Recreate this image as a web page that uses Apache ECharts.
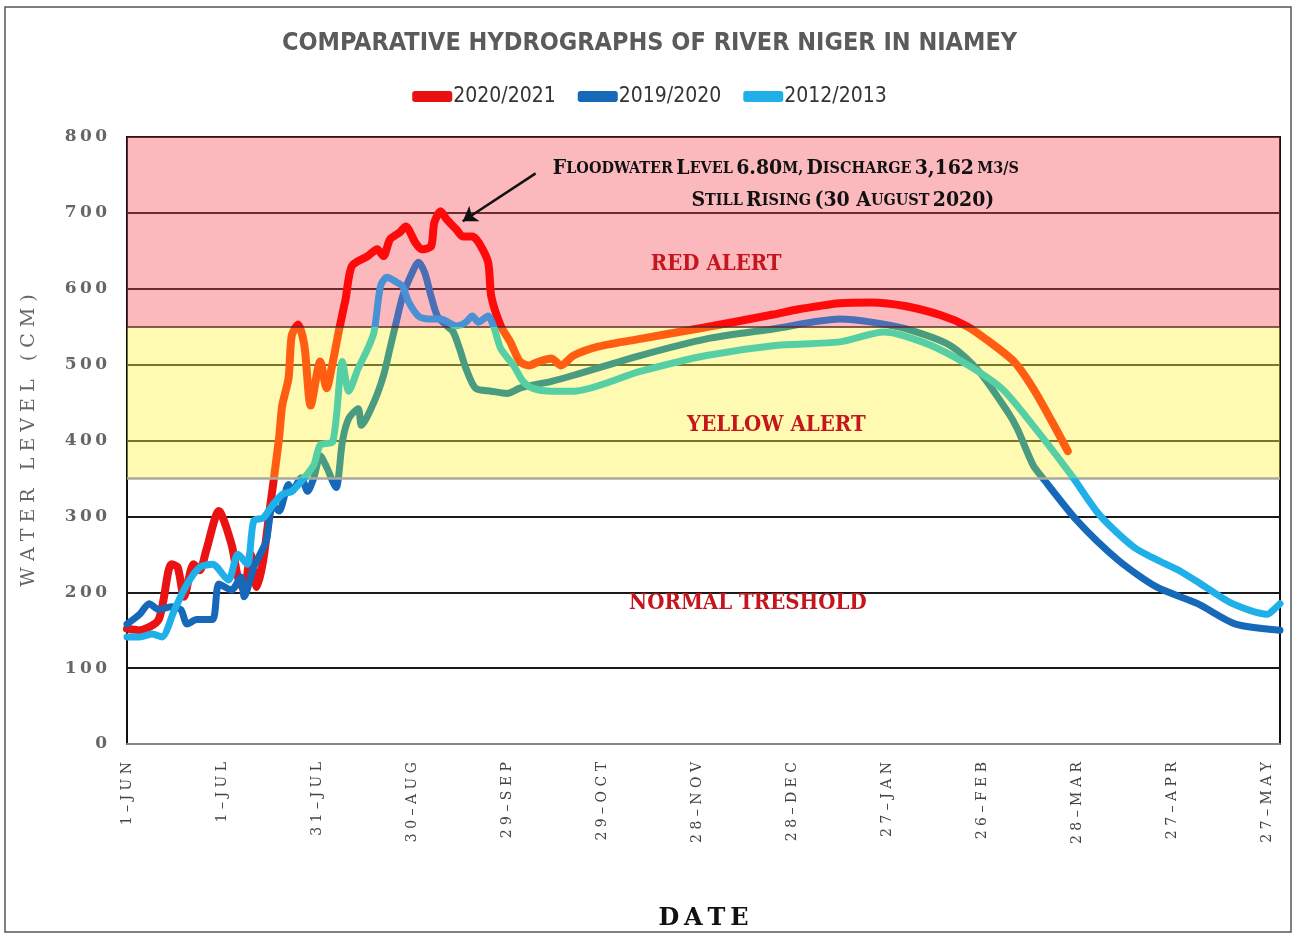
<!DOCTYPE html>
<html>
<head>
<meta charset="utf-8">
<script src="https://cdn.jsdelivr.net/npm/echarts@6/dist/echarts.min.js"></script>
<style>
  html, body { margin: 0; padding: 0; background: #fff; }
  #chart { width: 1299px; height: 936px; }
</style>
</head>
<body>
<div id="chart"></div>
<script>
// days counted from 1 June, levels in cm
const xTickLabels = ['1-Jun', '1-Jul', '31-Jul', '30-Aug', '29-Sep', '29-Oct', '28-Nov',
  '28-Dec', '27-Jan', '26-Feb', '28-Mar', '27-Apr', '27-May'];
const yTicks = [0, 100, 200, 300, 400, 500, 600, 700, 800];
const seriesNames = ['2020/2021', '2019/2020', '2012/2013'];

const redDays = [0,4,10,14,16,18,21,23,25,29,33,35,37,39,41,43,45,46,48,49,51,52,54,56,58,61,63,65,67,69,
  71,76,79,81,83,86,88,91,93,96,97,99,101,104,106,109,111,114,115,118,121,124,127,130,134,137,141,149,162,181,
  204,212,225,235,246,257,265,271,280,286,292,297];
const redLevel = [152,150,164,237,233,194,237,229,255,307,263,220,203,250,207,242,307,338,403,446,482,538,553,525,446,504,469,504,547,586,
  630,643,652,643,665,674,682,661,652,656,687,702,691,678,669,669,661,635,590,551,530,504,499,504,508,499,512,524,534,548,
  566,573,581,582,577,565,551,534,504,469,425,386];

const blueDays = [0,4,7,10,14,17,19,22,27,29,33,36,37,40,42,44,46,48,51,52,55,57,59,61,63,66,68,70,73,74,
  78,81,83,85,87,90,92,94,96,98,101,103,105,107,110,115,120,124,128,134,141,162,183,204,225,235,246,260,269,278,
  281,286,289,300,313,325,338,350,364];
const blueLevel = [158,171,185,177,181,177,158,164,164,211,203,220,194,233,250,268,315,307,342,333,351,333,351,380,365,338,399,429,442,420,
  451,486,521,556,590,621,635,621,590,564,551,543,521,495,469,465,462,469,473,478,486,512,534,547,560,556,547,525,491,438,
  416,368,351,294,242,207,185,158,150];

const cyanDays = [0,4,8,11,15,19,23,27,32,35,38,40,43,46,49,52,56,59,61,65,68,70,73,76,78,80,82,85,87,89,
  92,95,99,104,107,109,111,114,116,118,122,125,128,134,141,162,183,204,225,239,251,262,276,286,298,307,318,328,332,339,
  349,360,362,364];
const cyanLevel = [141,141,145,141,177,211,233,237,216,250,237,294,298,315,329,333,351,368,394,399,504,465,495,521,543,603,615,609,603,582,
  564,560,560,551,556,564,556,564,547,521,499,478,469,465,465,491,512,525,530,543,530,508,469,420,355,302,259,237,229,211,
  185,171,177,185];

const chart = echarts.init(document.getElementById('chart'));

function pairs(days, vals) {
  return days.map((d, i) => [d, vals[i]]);
}
function spaced(s, gap) {
  return String(s).split('').join(gap || '\u2009');
}

const condensed = "'DejaVu Sans Condensed', 'Liberation Sans Narrow', sans-serif";
const serif = "'DejaVu Serif', 'Liberation Serif', serif";
const serifCond = "'DejaVu Serif Condensed', 'Liberation Serif', serif";

// base colours and the colours each line takes inside the yellow / red bands
const lineColors = [
  { normal: '#ea1212', yellow: '#ff5e12', red: '#ff0a0a', legend: '#e81010' },
  { normal: '#1569b8', yellow: '#4a9c80', red: '#4a6fb6', legend: '#1569b8' },
  { normal: '#1fb0ea', yellow: '#56cfa4', red: '#4a90d4', legend: '#1fb0ea' }
];

function bandPieces(c) {
  return [
    { lt: 350, color: c.normal },
    { gte: 350, lt: 550, color: c.yellow },
    { gte: 550, color: c.red }
  ];
}

const lineData = [pairs(redDays, redLevel), pairs(blueDays, blueLevel), pairs(cyanDays, cyanLevel)];

const alertLabel = {
  show: true,
  position: 'inside',
  color: '#c4161c',
  fontFamily: serifCond,
  fontWeight: 'bold',
  fontSize: 22
};
const noteRich = {
  b: { fontFamily: serifCond, fontWeight: 'bold', fontSize: 21, color: '#111' },
  s: { fontFamily: serifCond, fontWeight: 'bold', fontSize: 16, color: '#111' }
};

const option = {
  backgroundColor: '#fff',
  animation: false,
  title: {
    text: 'COMPARATIVE HYDROGRAPHS OF RIVER NIGER IN NIAMEY',
    left: 'center',
    top: 26,
    textStyle: {
      fontFamily: condensed,
      fontWeight: 'bold',
      fontSize: 25,
      color: '#5b5b5b'
    }
  },
  legend: {
    top: 81,
    left: 'center',
    itemWidth: 40,
    itemHeight: 11,
    itemGap: 22,
    icon: 'roundRect',
    textStyle: {
      fontFamily: condensed,
      fontSize: 21,
      color: '#333',
      padding: [0, 0, 0, -4]
    },
    data: seriesNames.map((n, i) => ({ name: n, itemStyle: { color: lineColors[i].legend } }))
  },
  grid: {
    left: 127,
    right: 19,
    top: 137,
    bottom: 188,
    show: true,
    borderColor: '#111',
    borderWidth: 2,
    backgroundColor: 'transparent'
  },
  xAxis: {
    type: 'value',
    min: 0,
    max: 364,
    interval: 30,
    name: spaced('DATE'),
    nameLocation: 'middle',
    nameGap: 163,
    nameTextStyle: {
      fontFamily: serif,
      fontWeight: 'bold',
      fontSize: 24,
      color: '#111'
    },
    axisLine: { lineStyle: { color: '#888', width: 2 } },
    axisTick: { show: false },
    splitLine: { show: false },
    axisLabel: {
      rotate: 90,
      margin: 18,
      showMaxLabel: false,
      fontFamily: serif,
      fontSize: 14,
      color: '#444',
      formatter: v => (v % 30 === 0 && xTickLabels[v / 30])
        ? spaced(xTickLabels[v / 30].toUpperCase().replace('-', '\u2013'), ' ')
        : ''
    }
  },
  yAxis: {
    type: 'value',
    min: yTicks[0],
    max: yTicks[yTicks.length - 1],
    interval: 100,
    name: spaced('WATER LEVEL (CM)', ' '),
    nameLocation: 'middle',
    nameGap: 88,
    nameRotate: 90,
    nameTextStyle: {
      fontFamily: serif,
      fontSize: 19,
      color: '#666'
    },
    axisLine: { show: true, lineStyle: { color: '#111', width: 2 } },
    axisTick: { show: false },
    splitLine: { lineStyle: { color: '#1a1a1a', width: 2 } },
    axisLabel: {
      margin: 20,
      fontFamily: serif,
      fontWeight: 'bold',
      fontSize: 17,
      color: '#666',
      formatter: v => spaced(v)
    }
  },
  visualMap: lineColors.map((c, i) => ({
    type: 'piecewise',
    show: false,
    dimension: 1,
    seriesIndex: i,
    pieces: bandPieces(c)
  })),
  series: [
    ...seriesNames.map((n, i) => ({
      name: n,
      type: 'line',
      z: 3 + i,
      symbol: 'none',
      smooth: 0.25,
      color: lineColors[i].legend,
      lineStyle: { width: i === 0 ? 8 : 7, cap: 'round', join: 'round' },
      data: lineData[i]
    })),
    {
      // bands, borders, arrow and texts
      name: 'bands',
      type: 'line',
      z: 2,
      data: [],
      silent: true,
      markArea: {
        silent: true,
        data: [
          [{ yAxis: 550, itemStyle: { color: 'rgba(245, 70, 85, 0.38)' } }, { yAxis: 800 }],
          [{ yAxis: 350, itemStyle: { color: 'rgba(252, 242, 70, 0.42)' } }, { yAxis: 550 }]
        ]
      },
      markLine: {
        silent: true,
        symbol: 'none',
        label: { show: false },
        data: [
          { yAxis: 550, lineStyle: { color: '#5a2a2a', width: 1.5, type: 'solid' } },
          { yAxis: 350, lineStyle: { color: '#a9a9a0', width: 2.5, type: 'solid' } },
          [
            { coord: [129, 752], symbol: 'none', lineStyle: { color: '#111', width: 2.5, type: 'solid' } },
            { coord: [106, 689], symbol: 'arrow', symbolSize: 14 }
          ]
        ]
      },
      markPoint: {
        silent: true,
        symbol: 'circle',
        symbolSize: 1,
        itemStyle: { color: 'transparent' },
        data: [
          { coord: [186, 632], label: Object.assign({}, alertLabel, { formatter: 'RED ALERT' }) },
          { coord: [205, 420], label: Object.assign({}, alertLabel, { formatter: 'YELLOW ALERT' }) },
          { coord: [196, 185], label: Object.assign({}, alertLabel, { formatter: 'NORMAL TRESHOLD' }) },
          {
            coord: [208, 758],
            label: {
              show: true,
              position: 'inside',
              formatter: '{b|F}{s|LOODWATER} {b|L}{s|EVEL} {b|6.80}{s|M,} {b|D}{s|ISCHARGE} {b|3,162} {s|M3/S}',
              rich: noteRich
            }
          },
          {
            coord: [226, 716],
            label: {
              show: true,
              position: 'inside',
              formatter: '{b|S}{s|TILL} {b|R}{s|ISING} {b|(30 A}{s|UGUST} {b|2020)}',
              rich: noteRich
            }
          }
        ]
      }
    }
  ],
  graphic: [
    {
      type: 'rect',
      silent: true,
      shape: { x: 5, y: 7, width: 1286, height: 925 },
      style: { fill: 'none', stroke: '#555', lineWidth: 1.5 }
    }
  ]
};

chart.setOption(option);
</script>
</body>
</html>
